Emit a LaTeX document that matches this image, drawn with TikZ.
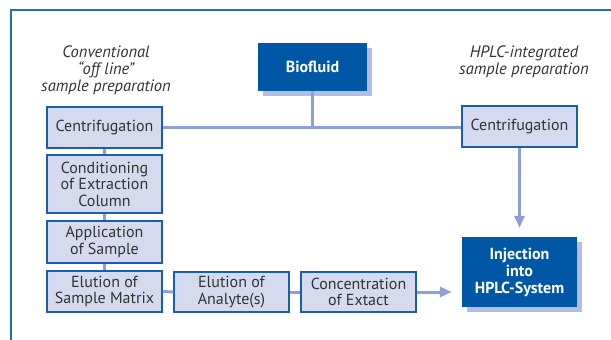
\documentclass[tikz,border=0pt]{standalone}
\usepackage{fontspec}
\setmainfont{PT Sans}
\usetikzlibrary{arrows.meta,shadows}
\definecolor{framec}{HTML}{1F6CC2}
\definecolor{lfill}{HTML}{D5DAEE}
\definecolor{bord}{HTML}{1A5FAF}
\definecolor{dfill}{HTML}{0057A6}
\definecolor{shad}{HTML}{B3BCE3}
\definecolor{conn}{HTML}{8C9FD9}
\definecolor{txt}{HTML}{333333}
\tikzset{
  lbox/.style={draw=bord, line width=1.3pt, fill=lfill, text=txt, align=center,
    inner sep=0pt, minimum width=115pt, font=\fontsize{16}{16.5}\selectfont},
  dbox/.style={draw=none, fill=dfill, text=white, align=center, inner sep=0pt,
    font=\fontsize{16}{17}\selectfont\bfseries,
    copy shadow={shadow xshift=5pt, shadow yshift=-5pt, fill=shad, draw=none}},
  conline/.style={draw=conn, line width=3pt},
  conarrow/.style={conline, -{Triangle[length=12pt,width=10pt]}},
  caption/.style={align=center, text=txt, font=\fontsize{16.5}{17}\selectfont\itshape}
}
\begin{document}
\begin{tikzpicture}[x=1pt,y=-1pt]
\useasboundingbox (0,0) rectangle (611,340);
\draw[framec, line width=2pt] (11,341) -- (11,10) -- (612,10);

\node[caption] (capL) at (106,70) {Conventional\\“off line”\\sample preparation};
\node[caption] (capR) at (524,62) {HPLC-integrated\\sample preparation};

\node[dbox, minimum width=109pt, minimum height=48pt] (bio) at (312.5,67) {Biofluid};

\node[lbox, minimum height=41pt] (lc) at (104.5,127.5) {Centrifugation};
\node[lbox, minimum height=58pt] (cond) at (104.5,184) {Conditioning\\of Extraction\\Column};
\node[lbox, minimum height=42pt] (app) at (104.5,242) {Application\\of Sample};
\node[lbox, minimum height=41pt] (esm) at (104.5,291.5) {Elution of\\Sample Matrix};
\node[lbox, minimum height=40pt] (ea) at (231.5,292) {Elution of\\Analyte(s)};
\node[lbox, minimum height=40pt] (conc) at (358.5,292) {Concentration\\of Extact};

\node[lbox, minimum height=41pt] (rc) at (519.5,126.5) {Centrifugation};
\node[dbox, minimum width=115pt, minimum height=70pt] (inj) at (519.5,272) {Injection\\into\\HPLC-System};

\draw[conline] (lc.east) -- (rc.west |- lc.east);
\draw[conline] (bio.south) -- (bio.south |- lc.east);
\draw[conline] (lc.south) -- (cond.north);
\draw[conline] (cond.south) -- (app.north);
\draw[conline] (app.south) -- (esm.north);
\draw[conline] (esm.east) -- (ea.west);
\draw[conline] (ea.east) -- (conc.west);
\draw[conarrow, shorten >=10pt] (conc.east) -- (inj.west |- conc.east);
\draw[conarrow, shorten >=9pt] (rc.south) -- (inj.north);
\end{tikzpicture}
\end{document}
